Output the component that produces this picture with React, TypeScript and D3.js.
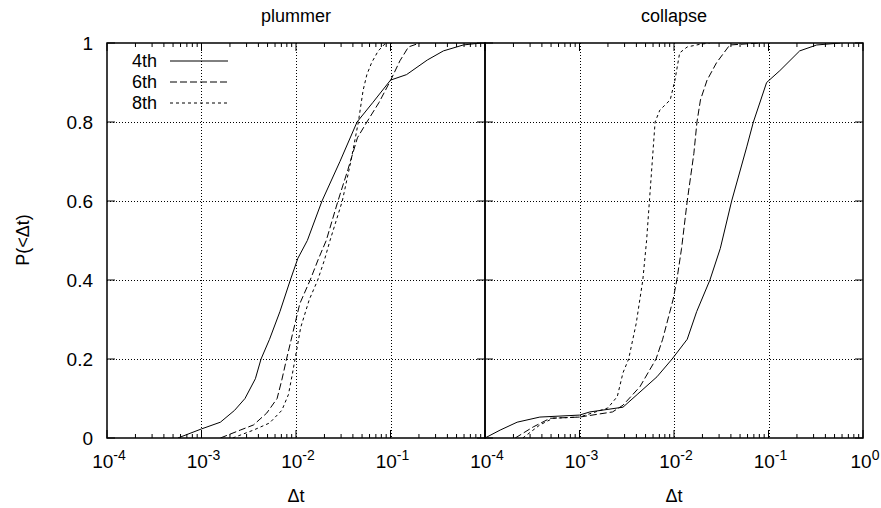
import React from 'react';
import * as d3 from 'd3';

// values: log10(Δt) and P(<Δt)
const panelTitles = ['plummer', 'collapse'];
const seriesNames = ['4th', '6th', '8th'];
const yTicks = [0, 0.2, 0.4, 0.6, 0.8, 1];
const xDecades = [-4, -3, -2, -1, 0];

const plummer4thLogDt = [-3.25, -3.0, -2.8, -2.65, -2.54, -2.43, -2.37, -2.28, -2.17, -2.06, -1.98, -1.88, -1.725, -1.535, -1.354, -1.185, -1.0, -0.83, -0.61, -0.44, -0.23, -0.05];
const plummer4thP = [0, 0.023, 0.04, 0.07, 0.1, 0.15, 0.2, 0.25, 0.32, 0.4, 0.455, 0.5, 0.6, 0.7, 0.8, 0.85, 0.906, 0.92, 0.957, 0.98, 0.995, 1.0];

const plummer6thLogDt = [-2.8, -2.59, -2.45, -2.31, -2.2, -2.15, -2.1, -2.03, -1.96, -1.85, -1.76, -1.68, -1.556, -1.45, -1.35, -1.25, -1.12, -1.0, -0.9, -0.81, -0.69];
const plummer6thP = [0, 0.02, 0.033, 0.063, 0.1, 0.147, 0.2, 0.27, 0.34, 0.4, 0.455, 0.5, 0.6, 0.68, 0.76, 0.8, 0.85, 0.905, 0.955, 0.99, 1.0];

const plummer8thLogDt = [-2.67, -2.45, -2.28, -2.15, -2.08, -2.04, -2.01, -1.95, -1.86, -1.77, -1.7, -1.64, -1.51, -1.42, -1.34, -1.29, -1.25, -1.2, -1.13, -1.05];
const plummer8thP = [0, 0.02, 0.038, 0.07, 0.11, 0.16, 0.2, 0.28, 0.35, 0.4, 0.45, 0.5, 0.6, 0.7, 0.8, 0.88, 0.92, 0.95, 0.98, 1.0];

const collapse4thLogDt = [-4.0, -3.84, -3.66, -3.42, -3.0, -2.89, -2.54, -2.39, -2.18, -2.02, -1.86, -1.76, -1.62, -1.51, -1.39, -1.23, -1.16, -1.02, -0.88, -0.67, -0.49, -0.24];
const collapse4thP = [0, 0.02, 0.04, 0.053, 0.058, 0.066, 0.078, 0.11, 0.155, 0.2, 0.25, 0.32, 0.4, 0.48, 0.6, 0.737, 0.8, 0.9, 0.93, 0.98, 0.995, 1.0];

const collapse6thLogDt = [-3.68, -3.49, -3.31, -3.0, -2.65, -2.54, -2.36, -2.19, -2.12, -2.01, -1.97, -1.92, -1.86, -1.79, -1.757, -1.72, -1.65, -1.55, -1.41, -1.09];
const collapse6thP = [0, 0.028, 0.05, 0.053, 0.066, 0.083, 0.13, 0.2, 0.25, 0.35, 0.4, 0.48, 0.6, 0.72, 0.8, 0.856, 0.906, 0.95, 0.995, 1.0];

const collapse8thLogDt = [-3.6, -3.42, -3.28, -3.0, -2.7, -2.6, -2.54, -2.48, -2.4, -2.33, -2.29, -2.26, -2.2, -2.15, -2.04, -1.99, -1.94, -1.86, -1.72, -1.62];
const collapse8thP = [0, 0.033, 0.05, 0.053, 0.076, 0.105, 0.165, 0.2, 0.29, 0.4, 0.5, 0.6, 0.8, 0.83, 0.856, 0.906, 0.975, 0.99, 0.997, 1.0];

const panelSeries = [
  [[plummer4thLogDt, plummer4thP], [plummer6thLogDt, plummer6thP], [plummer8thLogDt, plummer8thP]],
  [[collapse4thLogDt, collapse4thP], [collapse6thLogDt, collapse6thP], [collapse8thLogDt, collapse8thP]],
];

const W = 881;
const H = 508;
const top = 43;
const bottom = 438;
const panelX = [[107, 485], [485, 863]];
const dashes = [null, '7,3', '3,3'];
const font = '"Liberation Sans", Arial, Helvetica, sans-serif';
const fs = 18;
const tickFs = 19;

const y = d3.scaleLinear().domain([0, 1]).range([bottom, top]);

function Panel({ idx }: { idx: number }) {
  const [x0, x1] = panelX[idx];
  const x = d3.scaleLog().domain([1e-4, 1]).range([x0, x1]);
  const allTicks = x.ticks();
  const isMajor = (v: number) => Math.abs(Math.log10(v) - Math.round(Math.log10(v))) < 1e-6;
  const line = d3
    .line<[number, number]>()
    .x((d) => x(Math.pow(10, d[0])))
    .y((d) => y(d[1]));
  const cx = (x0 + x1) / 2;
  const labelDecades = idx === 0 ? xDecades.slice(0, 4) : xDecades;

  return (
    <g>
      <clipPath id={`clip${idx}`}>
        <rect x={x0} y={top} width={x1 - x0} height={bottom - top} />
      </clipPath>
      {/* grid */}
      {xDecades.slice(1, 4).map((e) => {
        const gx = Math.round(x(Math.pow(10, e))) + 0.5;
        return (
          <line key={'gx' + e} x1={gx} x2={gx} y1={top} y2={bottom}
            stroke="#000" strokeWidth={1} strokeDasharray="1,2" />
        );
      })}
      {yTicks.slice(1, 5).map((t) => {
        const gy = Math.round(y(t)) + 0.5;
        return (
          <line key={'gy' + t} x1={x0} x2={x1} y1={gy} y2={gy}
            stroke="#000" strokeWidth={1} strokeDasharray="1,2" />
        );
      })}
      {/* x ticks top and bottom */}
      {allTicks.map((t, i) => {
        const len = isMajor(t) ? 8 : 4;
        const px = x(t);
        return (
          <g key={'xt' + i}>
            <line x1={px} x2={px} y1={bottom} y2={bottom - len} stroke="#000" strokeWidth={1} />
            <line x1={px} x2={px} y1={top} y2={top + len} stroke="#000" strokeWidth={1} />
          </g>
        );
      })}
      {/* y ticks left and right */}
      {yTicks.map((t) => (
        <g key={'yt' + t}>
          <line x1={x0} x2={x0 + 8} y1={y(t)} y2={y(t)} stroke="#000" strokeWidth={1} />
          <line x1={x1} x2={x1 - 8} y1={y(t)} y2={y(t)} stroke="#000" strokeWidth={1} />
        </g>
      ))}
      {/* curves */}
      <g clipPath={`url(#clip${idx})`}>
        {panelSeries[idx].map(([lx, p], si) => {
          const pts = lx.map((v, k) => [v, p[k]] as [number, number]);
          return (
            <path key={si} d={line(pts) || ''} fill="none" stroke="#000" strokeWidth={1}
              strokeDasharray={dashes[si] || undefined} />
          );
        })}
      </g>
      {/* frame */}
      <rect x={x0} y={top} width={x1 - x0} height={bottom - top} fill="none" stroke="#000" strokeWidth={1.5} />
      {/* x tick labels */}
      {labelDecades.map((e) => (
        <text key={'xl' + e} x={x(Math.pow(10, e)) + 2} y={468} textAnchor="middle" fontFamily={font} fontSize={tickFs}>
          10<tspan dy={-8} fontSize={14}>{e}</tspan>
        </text>
      ))}
      <text x={cx} y={502} textAnchor="middle" fontFamily={font} fontSize={fs}>Δt</text>
      <text x={cx} y={22} textAnchor="middle" fontFamily={font} fontSize={fs}>{panelTitles[idx]}</text>
    </g>
  );
}

export default function App() {
  const legendY = [67, 88, 109];
  return (
    <svg width={W} height={H} style={{ position: 'absolute', left: 0, top: 0, background: '#fff' }}>
      <rect x={0} y={0} width={W} height={H} fill="#fff" />
      <Panel idx={0} />
      <Panel idx={1} />
      {yTicks.map((t) => (
        <text key={'yl' + t} x={93} y={y(t) + 7} textAnchor="end" fontFamily={font} fontSize={tickFs}>
          {String(t)}
        </text>
      ))}
      <text transform="translate(29,240) rotate(-90)" textAnchor="middle" fontFamily={font} fontSize={fs}>
        P(&lt;Δt)
      </text>
      {seriesNames.map((n, i) => (
        <g key={n}>
          <text x={157} y={legendY[i]} textAnchor="end" fontFamily={font} fontSize={fs}>{n}</text>
          <line x1={170} x2={228} y1={legendY[i] - 6} y2={legendY[i] - 6} stroke="#000" strokeWidth={1}
            strokeDasharray={dashes[i] || undefined} />
        </g>
      ))}
    </svg>
  );
}
